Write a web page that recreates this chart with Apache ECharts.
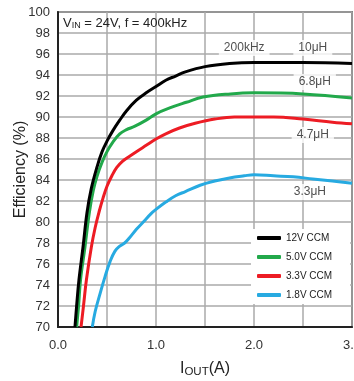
<!DOCTYPE html>
<html><head><meta charset="utf-8">
<script src="https://cdn.jsdelivr.net/npm/echarts@6/dist/echarts.min.js"></script>
<style>html,body{margin:0;padding:0;background:#fff}#c{width:354px;height:381px}</style>
</head><body><div id="c"></div>
<script>
// Data (I_OUT in A, efficiency in %)
const seriesNames = ['12V CCM', '5.0V CCM', '3.3V CCM', '1.8V CCM'];
const xTicks = ['0.0', '1.0', '2.0', '3.0'];
const blackI = [0.173,0.19,0.214,0.255,0.296,0.34,0.4,0.45,0.5,0.56,0.63,0.7,0.8,0.9,1.0,1.1,1.2,1.3,1.5,1.75,2.0,2.5,3.0];
const blackE = [70,72,74.5,77.6,80.9,83.2,85.3,86.7,87.7,88.7,89.7,90.6,91.6,92.3,92.9,93.5,93.9,94.3,94.8,95.1,95.2,95.2,95.1];
const greenI = [0.19,0.21,0.23,0.275,0.32,0.36,0.4,0.45,0.5,0.56,0.63,0.7,0.78,0.9,1.0,1.14,1.31,1.48,1.76,2.0,2.5,3.0];
const greenE = [70,72,74.5,77.6,80.9,83,84.4,85.7,86.7,87.6,88.4,88.8,89.1,89.7,90.3,90.86,91.4,91.9,92.2,92.3,92.2,91.8];
const redI = [0.235,0.26,0.29,0.34,0.38,0.42,0.46,0.5,0.55,0.6,0.66,0.72,0.8,0.9,1.0,1.1,1.24,1.4,1.6,1.8,2.0,2.2,2.5,2.8,3.0];
const redE = [70,72,74.5,77.6,79.5,81,82.3,83.4,84.4,85.2,85.8,86.2,86.7,87.3,87.9,88.4,88.95,89.4,89.8,90.0,90.0,90.0,89.8,89.5,89.35];
const blueI = [0.35,0.38,0.43,0.48,0.53,0.58,0.63,0.68,0.73,0.8,0.87,0.95,1.0,1.1,1.2,1.3,1.45,1.6,1.75,1.9,2.0,2.2,2.4,2.6,2.8,3.0];
const blueE = [70,71.5,73.2,74.8,76.2,77.2,77.7,78.0,78.5,79.3,80.0,80.8,81.2,81.9,82.5,82.9,83.5,83.9,84.2,84.4,84.5,84.4,84.3,84.1,83.9,83.7];
const noteTexts = ['200kHz', '10μH', '6.8μH', '4.7μH', '3.3μH'];
const noteI = [1.9, 2.6, 2.62, 2.6, 2.57];
const noteE = [96.57, 96.57, 93.33, 88.29, 82.86];

const colors = ['#000000', '#22a94b', '#ed1c24', '#27aae1'];
const FONT = '"Liberation Sans", Arial, sans-serif';
const NARROW = '"Liberation Sans Narrow", "Liberation Sans", Arial, sans-serif';
const pairs = (xs, ys) => xs.map((x, i) => [x, ys[i]]);
const allData = [pairs(blackI, blackE), pairs(greenI, greenE), pairs(redI, redE), pairs(blueI, blueE)];

const chart = echarts.init(document.getElementById('c'), null, {renderer: 'canvas'});
const series = allData.map((d, i) => ({
  name: seriesNames[i], type: 'line', data: d, showSymbol: false, smooth: 0.4,
  lineStyle: {color: colors[i], width: 3}, itemStyle: {color: colors[i]}, z: 5 - i,
  clip: true
}));
series.push({
  type: 'scatter', data: noteTexts.map((t, i) => ({value: [noteI[i], noteE[i]], name: t})),
  symbolSize: 1, itemStyle: {color: 'rgba(0,0,0,0)'}, z: 10, silent: true,
  label: {show: true, position: 'inside', formatter: p => p.name, color: '#222', fontSize: 12,
    fontFamily: FONT, backgroundColor: '#fff', padding: [2, 5, 2, 5]}
});
chart.setOption({
  animation: false,
  grid: {left: 58, top: 12, right: 2, bottom: 54, containLabel: false, outerBoundsMode: 'none',
    show: true, borderColor: '#222', borderWidth: 1.5, backgroundColor: 'transparent'},
  xAxis: {type: 'value', min: 0, max: 3, interval: 0.5,
    axisLine: {show: true, onZero: false, lineStyle: {color: '#222', width: 2}},
    axisTick: {show: false},
    splitLine: {show: true, lineStyle: {color: '#aaa', width: 1.5}},
    axisLabel: {color: '#333', fontSize: 13, fontFamily: FONT, margin: 12, hideOverlap: false,
      formatter: v => { const s = v.toFixed(1); return xTicks.indexOf(s) >= 0 ? s : ''; }},
    name: 'I{s|OUT}(A)', nameLocation: 'middle', nameGap: 33, nameMoveOverlap: false,
    nameTextStyle: {color: '#222', fontSize: 16, fontFamily: FONT, lineHeight: 18,
      rich: {s: {fontSize: 11.5, fontFamily: FONT, color: '#222', verticalAlign: 'bottom', lineHeight: 14}}}
  },
  yAxis: {type: 'value', min: 70, max: 100, interval: 2,
    axisLine: {show: true, onZero: false, lineStyle: {color: '#222', width: 2}},
    axisTick: {show: false},
    splitLine: {show: true, lineStyle: {color: '#aaa', width: 1.5}},
    axisLabel: {color: '#333', fontSize: 13, fontFamily: FONT, margin: 8},
    name: 'Efficiency (%)', nameLocation: 'middle', nameGap: 29, nameMoveOverlap: false,
    nameTextStyle: {color: '#222', fontSize: 16, fontFamily: FONT}
  },
  legend: {
    data: seriesNames, orient: 'vertical', left: 251, top: 229,
    backgroundColor: '#fff', padding: [4, 18, 4, 6], itemGap: 9,
    itemWidth: 24, itemHeight: 4, icon: 'roundRect',
    textStyle: {color: '#222', fontSize: 10, fontFamily: NARROW}
  },
  graphic: [{
    type: 'text', left: 63, top: 17, z: 20,
    style: {text: 'V{s|IN} = 24V, f = 400kHz', fill: '#222', font: '13px ' + FONT,
      rich: {s: {fontSize: 9, fontFamily: FONT, verticalAlign: 'bottom', lineHeight: 10}}}
  }],
  series: series
});
</script></body></html>
